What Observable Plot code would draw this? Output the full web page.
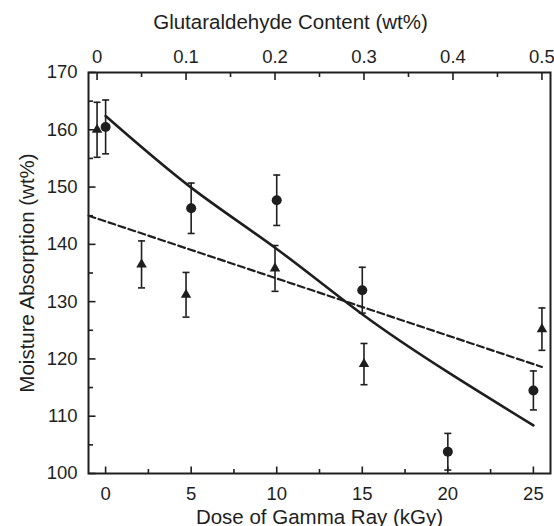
<!DOCTYPE html>
<html>
<head>
<meta charset="utf-8">
<script src="https://cdn.jsdelivr.net/npm/d3@7"></script>
<script src="https://cdn.jsdelivr.net/npm/@observablehq/plot@0.6"></script>
<style>
  html, body { margin: 0; padding: 0; background: #fff; }
  #chart { width: 554px; height: 526px; overflow: hidden; }
</style>
</head>
<body>
<div id="chart"></div>
<script>
// ---- data ----
const doses = [0, 5, 10, 15, 20, 25];
const doseAbsorption = [160.5, 146.3, 147.7, 132.0, 103.8, 114.5];
const doseError = [4.7, 4.4, 4.4, 4.0, 3.2, 3.4];

const gluta = [0, 0.05, 0.1, 0.2, 0.3, 0.5];
const glutaAbsorption = [160.0, 136.5, 131.2, 135.8, 119.1, 125.2];
const glutaError = [4.8, 4.1, 3.9, 4.0, 3.6, 3.7];

const doseFitX = [0, 5, 10, 15, 20, 25];
const doseFitY = [162.4, 149.9, 139.2, 127.8, 117.7, 108.4];
const glutaFitX = [-0.0095, 0.5];
const glutaFitY = [145.0, 118.6];

const xTicks = [0, 5, 10, 15, 20, 25];
const xMinorTicks = [2.5, 7.5, 12.5, 17.5, 22.5];
const yTicks = [100, 110, 120, 130, 140, 150, 160, 170];
const yMinorTicks = [105, 115, 125, 135, 145, 155, 165];
const gTicks = [0, 0.1, 0.2, 0.3, 0.4, 0.5];
const gTickLabels = ["0", "0.1", "0.2", "0.3", "0.4", "0.5"];
const gMinorTicks = [0.05, 0.15, 0.25, 0.35, 0.45];

// top axis (glutaraldehyde) is aligned to the bottom axis: 0 wt% -> -0.5 kGy, 0.5 wt% -> 25.5 kGy
const toDose = g => -0.5 + 52 * g;

const doseData = doses.map((d, i) => ({x: d, y: doseAbsorption[i], e: doseError[i]}));
const glutaData = gluta.map((g, i) => ({x: toDose(g), y: glutaAbsorption[i], e: glutaError[i]}));
const doseFit = doseFitX.map((d, i) => ({x: d, y: doseFitY[i]}));
const glutaFit = glutaFitX.map((g, i) => ({x: toDose(g), y: glutaFitY[i]}));

// ---- small custom symbols (inward ticks, error caps) ----
const seg = (x0, y0, x1, y1) => ({draw(ctx) { ctx.moveTo(x0, y0); ctx.lineTo(x1, y1); }});
const INK = "#1e1e1e";
const TICK_FS = 18.5;
const TITLE_FS = 20.5;
const FONT = "'Liberation Sans', Arial, sans-serif";

const chart = Plot.plot({
  width: 554,
  height: 526,
  marginLeft: 88,
  marginRight: 4,
  marginTop: 72,
  marginBottom: 53,
  style: {fontFamily: FONT, fontSize: "18.5px", color: INK, background: "#fff"},
  x: {domain: [-1, 26], axis: null},
  y: {domain: [100, 170], axis: null},
  marks: [
    // fit lines
    Plot.line(doseFit, {x: "x", y: "y", stroke: INK, strokeWidth: 2.6, curve: "natural"}),
    Plot.line(glutaFit, {x: "x", y: "y", stroke: INK, strokeWidth: 2.2, strokeDasharray: "7,3.5"}),
    // error bars
    Plot.ruleX(doseData, {x: "x", y1: d => d.y - d.e, y2: d => d.y + d.e, stroke: INK, strokeWidth: 1.6}),
    Plot.ruleX(glutaData, {x: "x", y1: d => d.y - d.e, y2: d => d.y + d.e, stroke: INK, strokeWidth: 1.6}),
    Plot.dot(doseData, {x: "x", y: d => d.y - d.e, symbol: seg(-3.5, 0, 3.5, 0), fill: "none", stroke: INK, strokeWidth: 1.6}),
    Plot.dot(doseData, {x: "x", y: d => d.y + d.e, symbol: seg(-3.5, 0, 3.5, 0), fill: "none", stroke: INK, strokeWidth: 1.6}),
    Plot.dot(glutaData, {x: "x", y: d => d.y - d.e, symbol: seg(-3.5, 0, 3.5, 0), fill: "none", stroke: INK, strokeWidth: 1.6}),
    Plot.dot(glutaData, {x: "x", y: d => d.y + d.e, symbol: seg(-3.5, 0, 3.5, 0), fill: "none", stroke: INK, strokeWidth: 1.6}),
    // markers
    Plot.dot(glutaData, {x: "x", y: "y", symbol: "triangle", r: 3.9, fill: INK, stroke: "none"}),
    Plot.dot(doseData, {x: "x", y: "y", symbol: "circle", r: 5, fill: INK, stroke: "none"}),
    // inward ticks
    Plot.dot(xTicks, {x: d => d, frameAnchor: "bottom", symbol: seg(0, 0, 0, -7), fill: "none", stroke: INK, strokeWidth: 1.6}),
    Plot.dot(xMinorTicks, {x: d => d, frameAnchor: "bottom", symbol: seg(0, 0, 0, -4.5), fill: "none", stroke: INK, strokeWidth: 1.6}),
    Plot.dot(gTicks, {x: d => toDose(d), frameAnchor: "top", symbol: seg(0, 0, 0, 7.5), fill: "none", stroke: INK, strokeWidth: 1.6}),
    Plot.dot(gMinorTicks, {x: d => toDose(d), frameAnchor: "top", symbol: seg(0, 0, 0, 4.5), fill: "none", stroke: INK, strokeWidth: 1.6}),
    Plot.dot(yTicks, {y: d => d, frameAnchor: "left", symbol: seg(0, 0, 7, 0), fill: "none", stroke: INK, strokeWidth: 1.6}),
    Plot.dot(yMinorTicks, {y: d => d, frameAnchor: "left", symbol: seg(0, 0, 4.5, 0), fill: "none", stroke: INK, strokeWidth: 1.6}),
    // tick labels
    Plot.text(xTicks, {x: d => d, text: d => String(d), frameAnchor: "bottom", textAnchor: "middle", lineAnchor: "top", dy: 13.5, fontSize: TICK_FS, fontFamily: FONT, fill: INK}),
    Plot.text(gTicks, {x: d => toDose(d), text: (d, i) => gTickLabels[i], frameAnchor: "top", textAnchor: "middle", lineAnchor: "bottom", dy: -10, fontSize: TICK_FS, fontFamily: FONT, fill: INK}),
    Plot.text(yTicks, {y: d => d, text: d => String(d), frameAnchor: "left", textAnchor: "end", lineAnchor: "middle", dx: -11, fontSize: TICK_FS, fontFamily: FONT, fill: INK}),
    // frame
    Plot.frame({stroke: INK, strokeWidth: 2}),
    // axis titles
    Plot.text(["Dose of Gamma Ray (kGy)"], {text: d => d, frameAnchor: "bottom", textAnchor: "middle", lineAnchor: "bottom", dy: 50, fontSize: TITLE_FS, fontFamily: FONT, fill: INK}),
    Plot.text(["Glutaraldehyde Content (wt%)"], {text: d => d, frameAnchor: "top", textAnchor: "middle", lineAnchor: "bottom", dy: -44, dx: -29, fontSize: TITLE_FS, fontFamily: FONT, fill: INK}),
    Plot.text(["Moisture Absorption (wt%)"], {text: d => d, frameAnchor: "left", textAnchor: "middle", lineAnchor: "bottom", rotate: -90, dx: -55, fontSize: TITLE_FS, fontFamily: FONT, fill: INK})
  ]
});
document.getElementById("chart").appendChild(chart);
</script>
</body>
</html>
